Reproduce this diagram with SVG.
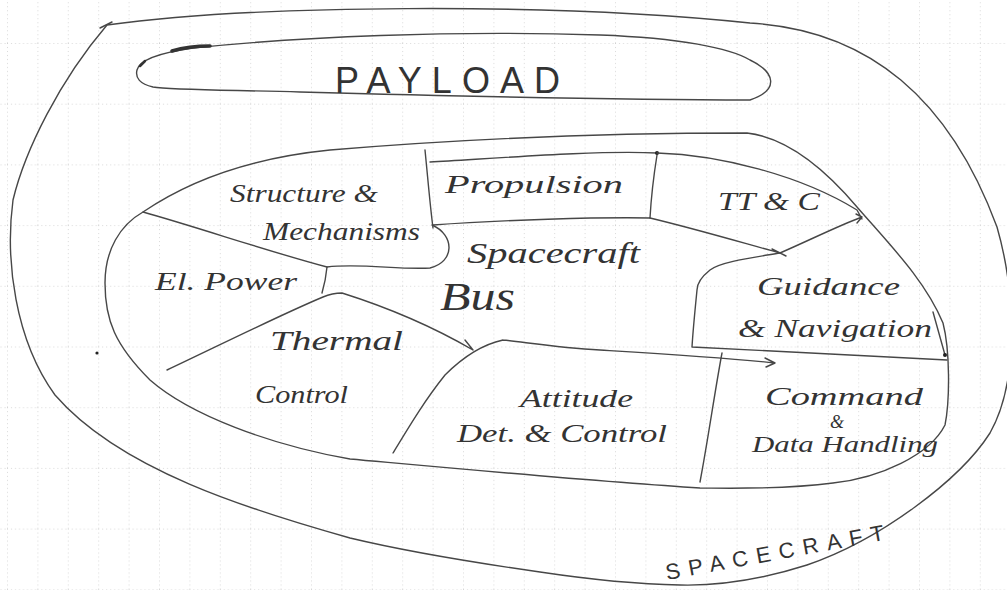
<svg xmlns="http://www.w3.org/2000/svg" width="1007" height="590" viewBox="0 0 1007 590">
<defs>
<pattern id="grid" patternUnits="userSpaceOnUse" x="7" y="43" width="30.4" height="60.7">
<line x1="0.5" y1="0" x2="0.5" y2="60.7" stroke="#cfcfcf" stroke-width="0.8" stroke-dasharray="1 3"/>
<line x1="0" y1="0.5" x2="30.4" y2="0.5" stroke="#cfcfcf" stroke-width="0.8" stroke-dasharray="1 3"/>
</pattern>
</defs>
<style>
.ln{fill:none;stroke:#474747;stroke-width:1.4;stroke-linecap:round;stroke-linejoin:round}
.hw{font-family:"Liberation Serif","DejaVu Serif",serif;font-style:italic;fill:#333}
.cap{font-family:"Liberation Sans","DejaVu Sans",sans-serif;fill:#333}
</style>
<rect width="1007" height="590" fill="#ffffff"/>
<rect width="1007" height="590" fill="url(#grid)"/>

<g id="spacecraft">
<path class="ln" d="M107,25 C250,5 550,2 750,23 C870,30 950,100 997,227 C1015,290 1020,380 990,433 C960,480 880,540 807,565 C760,580 720,586 680,585 C630,584 580,578 540,572 C470,562 400,550 350,538 C250,510 120,470 55,395 C15,340 5,260 13,200 C25,150 60,80 107,25 Z"/>
<path class="ln" d="M100,28 L112,22"/>
<text class="cap" x="667" y="580" font-size="22" textLength="222" lengthAdjust="spacing" transform="rotate(-10.4 667 580)">SPACECRAFT</text>
</g>

<g id="payload">
<path class="ln" d="M137,70 C140,58 165,52 193,48 C300,37 450,30 600,35 C680,38 730,48 750,60 C775,72 780,90 750,100 C650,100 450,96 300,92 C230,90 170,90 153,87 C140,84 135,78 137,70 Z"/>
<path d="M172,51 C182,48 195,46 210,46" fill="none" stroke="#333" stroke-width="3.5" stroke-linecap="round"/>
<path d="M140,66 L145,61" fill="none" stroke="#333" stroke-width="2.5" stroke-linecap="round"/>
<text class="cap" x="335" y="93" font-size="36" textLength="225" lengthAdjust="spacing">PAYLOAD</text>
</g>

<g id="bus">
<path class="ln" d="M143,212 C190,180 250,158 330,150 C450,140 600,133 747,133 C790,138 830,175 857,207 C890,245 925,280 943,323 C950,350 950,400 945,425 C930,455 880,478 833,483 C780,490 720,488 700,488 C600,482 450,468 350,459 C270,445 190,415 150,380 C115,345 105,320 105,283 C105,250 120,225 143,212 Z"/>
<text class="hw" x="467" y="263" font-size="30" textLength="173" lengthAdjust="spacingAndGlyphs">Spacecraft</text>
<text class="hw" x="440" y="310" font-size="40" textLength="75" lengthAdjust="spacingAndGlyphs">Bus</text>
</g>

<g id="structure">
<path class="ln" d="M143,212 C200,228 270,252 327,267 C360,263 400,270 430,268 C455,262 455,235 432,225"/>
<text class="hw" x="230" y="202" font-size="25" textLength="148" lengthAdjust="spacingAndGlyphs">Structure &amp;</text>
<text class="hw" x="263" y="240" font-size="25" textLength="157" lengthAdjust="spacingAndGlyphs">Mechanisms</text>
</g>

<g id="propulsion">
<path class="ln" d="M425,150 C428,180 430,205 433,228 M430,162 C500,158 600,150 657,153 M657,155 C653,180 651,200 650,218 M433,225 C500,220 600,217 650,218"/>
<circle cx="657" cy="153" r="2" fill="#222"/>
<text class="hw" x="445" y="193" font-size="26" textLength="178" lengthAdjust="spacingAndGlyphs">Propulsion</text>
</g>

<g id="ttc">
<path class="ln" d="M657,153 C720,155 800,175 857,210 L862,219 M650,218 C700,230 750,245 780,253 M772,249 L786,256 M780,253 C810,240 840,225 862,217 M856,214 L862,217 L857,223"/>
<text class="hw" x="718" y="210" font-size="26" textLength="102" lengthAdjust="spacingAndGlyphs">TT &amp; C</text>
</g>

<g id="guidance">
<path class="ln" d="M780,253 C750,258 720,262 710,270 C700,278 697,285 697,290 C695,310 693,330 692,347 C760,350 850,355 947,360 M933,312 L945,355"/>
<circle cx="945" cy="355" r="2" fill="#222"/>
<text class="hw" x="757" y="295" font-size="26" textLength="143" lengthAdjust="spacingAndGlyphs">Guidance</text>
<text class="hw" x="738" y="337" font-size="26" textLength="194" lengthAdjust="spacingAndGlyphs">&amp; Navigation</text>
</g>

<g id="electrical-power">
<path class="ln" d="M327,267 C326,278 324,286 322,293"/>
<text class="hw" x="155" y="290" font-size="26" textLength="142" lengthAdjust="spacingAndGlyphs">El. Power</text>
</g>

<g id="thermal">
<path class="ln" d="M167,370 C220,345 280,315 323,297 C330,294 338,293 342,293 C380,305 430,325 473,350 M465,340 L473,350"/>
<text class="hw" x="270" y="350" font-size="28" textLength="133" lengthAdjust="spacingAndGlyphs">Thermal</text>
<text class="hw" x="255" y="403" font-size="25" textLength="93" lengthAdjust="spacingAndGlyphs">Control</text>
</g>

<g id="attitude">
<path class="ln" d="M503,340 C530,343 560,348 600,350 C650,353 720,357 775,363 M503,340 C480,345 460,360 445,375 C425,400 410,425 393,453 M765,358 L775,363 L766,367"/>
<text class="hw" x="520" y="407" font-size="26" textLength="113" lengthAdjust="spacingAndGlyphs">Attitude</text>
<text class="hw" x="457" y="442" font-size="26" textLength="210" lengthAdjust="spacingAndGlyphs">Det. &amp; Control</text>
</g>

<g id="command-data">
<path class="ln" d="M722,353 C715,390 708,440 700,482"/>
<text class="hw" x="765" y="405" font-size="26" textLength="158" lengthAdjust="spacingAndGlyphs">Command</text>
<text class="hw" x="830" y="428" font-size="18">&amp;</text>
<text class="hw" x="752" y="452" font-size="24" textLength="186" lengthAdjust="spacingAndGlyphs">Data Handling</text>
</g>

<g id="marks">
<circle cx="97" cy="353" r="1.6" fill="#222"/>
</g>
</svg>
